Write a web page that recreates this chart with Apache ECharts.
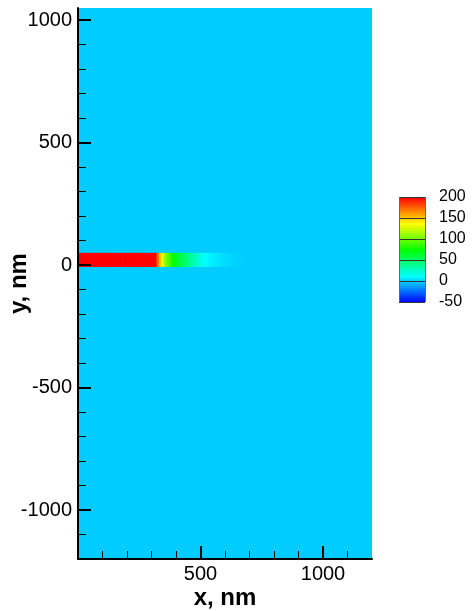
<!DOCTYPE html>
<html>
<head>
<meta charset="utf-8">
<script src="https://cdn.jsdelivr.net/npm/echarts@6/dist/echarts.min.js"></script>
<style>
html,body{margin:0;padding:0;background:#fff;}
#chart{width:475px;height:611px;}
</style>
</head>
<body>
<div id="chart"></div>
<script>
// ---- data ----
const xRange = [0, 1200];
const yRange = [-1200, 1050];
const backgroundValue = 0;
// strip along y in [-5, 50], binned in x (bin start, 10 nm wide)
const stripY = [-5, 50];
const stripBinWidth = 10;
const stripX = [0,10,20,30,40,50,60,70,80,90,100,110,120,130,140,150,160,170,180,190,200,210,220,230,240,250,260,270,280,290,
  300,310,320,330,340,350,360,370,380,390,400,410,420,430,440,450,460,470,480,490,500,510,520,530,540,550,560,570,580,590,
  600,610,620,630,640,650,660,670,680];
const stripValues = [240,240,240,240,240,240,240,240,240,240,240,240,240,240,240,240,240,240,240,240,240,240,240,240,240,240,240,240,240,235,
  225,200,175,150,130,112,100,90,80,72,66,60,55,50,45,40,35,30,26,22,18,14,12,10,9,8,7,6,5,4.2,
  3.5,3,2.5,2,1.5,1,0.7,0.4,0.2];
const xMajorTicks = [500, 1000];
const xMinorTicks = [100,200,300,400,600,700,800,900,1100];
const yMajorTicks = [-1000, -500, 0, 500, 1000];
const yMinorTicks = [-1100,-900,-800,-700,-600,-400,-300,-200,-100,100,200,300,400,600,700,800,900];
const colorMin = -50, colorMax = 200;
const colorbarStep = 5;
const colorbarLevels = [-50,-45,-40,-35,-30,-25,-20,-15,-10,-5,0,5,10,15,20,25,30,35,40,45,50,55,60,65,70,75,80,85,90,95,
  100,105,110,115,120,125,130,135,140,145,150,155,160,165,170,175,180,185,190,195];
const colorStops = ['#0000ff', '#00ffff', '#00ff00', '#ffff00', '#ff0000'];

// ---- build ----
const fieldData = [[xRange[0], xRange[1], yRange[0], yRange[1], backgroundValue]];
stripX.forEach((x, i) => fieldData.push([x, x + stripBinWidth, stripY[0], stripY[1], stripValues[i]]));
const colorbarData = colorbarLevels.map(v => [0, 1, v, v + colorbarStep, v + colorbarStep / 2]);

function renderRect(params, api) {
  const p0 = api.coord([api.value(0), api.value(2)]);
  const p1 = api.coord([api.value(1), api.value(3)]);
  return {
    type: 'rect',
    shape: {
      x: Math.min(p0[0], p1[0]),
      y: Math.min(p0[1], p1[1]),
      width: Math.abs(p1[0] - p0[0]) + 0.6,
      height: Math.abs(p1[1] - p0[1]) + 0.6
    },
    style: { fill: api.visual('color') }
  };
}

const FONT = '"Liberation Sans", Arial, sans-serif';
const plain = v => String(v);
const chart = echarts.init(document.getElementById('chart'), null, { renderer: 'canvas' });
chart.setOption({
  animation: false,
  backgroundColor: '#ffffff',
  grid: [
    { left: 78, top: 8, width: 294, height: 551, containLabel: false, outerBoundsMode: 'none' },
    { left: 399, top: 197, width: 26, height: 105, containLabel: false, outerBoundsMode: 'none' }
  ],
  visualMap: {
    type: 'continuous', show: false, min: colorMin, max: colorMax,
    dimension: 4, seriesIndex: [0, 1],
    inRange: { color: colorStops }
  },
  xAxis: [
    {
      gridIndex: 0, type: 'value', min: xRange[0], max: xRange[1], position: 'bottom', z: 10,
      name: 'x, nm', nameLocation: 'middle', nameGap: 27, nameMoveOverlap: false,
      nameTextStyle: { fontFamily: FONT, fontSize: 24, fontWeight: 'bold', color: '#000' },
      axisLine: { show: true, onZero: false, lineStyle: { color: '#000', width: 2 } },
      axisTick: { show: true, inside: true, length: 13, customValues: xMajorTicks, lineStyle: { color: '#000', width: 2 } },
      axisLabel: { customValues: xMajorTicks, formatter: plain, fontFamily: FONT, fontSize: 20, color: '#000', margin: 5 },
      splitLine: { show: false }
    },
    {
      gridIndex: 0, type: 'value', min: xRange[0], max: xRange[1], position: 'bottom', z: 10,
      axisLine: { show: false, onZero: false },
      axisTick: { show: true, inside: true, length: 8, customValues: xMinorTicks, lineStyle: { color: '#000', width: 1 } },
      axisLabel: { show: false },
      splitLine: { show: false }
    },
    {
      gridIndex: 1, type: 'value', min: 0, max: 1, interval: 1, z: 10,
      axisLine: { show: false, onZero: false }, axisTick: { show: false }, axisLabel: { show: false },
      splitLine: { show: true, lineStyle: { color: '#666', width: 1 } }
    }
  ],
  yAxis: [
    {
      gridIndex: 0, type: 'value', min: yRange[0], max: yRange[1], position: 'left', z: 10,
      name: 'y, nm', nameLocation: 'middle', nameGap: 47, nameMoveOverlap: false,
      nameTextStyle: { fontFamily: FONT, fontSize: 24, fontWeight: 'bold', color: '#000' },
      axisLine: { show: true, onZero: false, lineStyle: { color: '#000', width: 2 } },
      axisTick: { show: true, inside: true, length: 13, customValues: yMajorTicks, lineStyle: { color: '#000', width: 2 } },
      axisLabel: { customValues: yMajorTicks, formatter: plain, fontFamily: FONT, fontSize: 20, color: '#000', margin: 6 },
      splitLine: { show: false }
    },
    {
      gridIndex: 0, type: 'value', min: yRange[0], max: yRange[1], position: 'left', z: 10,
      axisLine: { show: false, onZero: false },
      axisTick: { show: true, inside: true, length: 8, customValues: yMinorTicks, lineStyle: { color: '#000', width: 1 } },
      axisLabel: { show: false },
      splitLine: { show: false }
    },
    {
      gridIndex: 1, type: 'value', min: colorMin, max: colorMax, interval: 50, position: 'right', z: 10,
      axisLine: { show: false, onZero: false }, axisTick: { show: false },
      axisLabel: { fontFamily: FONT, fontSize: 16, color: '#000', margin: 14, align: 'left' },
      splitLine: { show: true, lineStyle: { color: '#333', width: 1 } }
    }
  ],
  series: [
    {
      type: 'custom', xAxisIndex: 0, yAxisIndex: 0, clip: true,
      renderItem: renderRect, data: fieldData,
      encode: { x: [0, 1], y: [2, 3] }
    },
    {
      type: 'custom', xAxisIndex: 2, yAxisIndex: 2, clip: true,
      renderItem: renderRect, data: colorbarData,
      encode: { x: [0, 1], y: [2, 3] }
    }
  ]
});
</script>
</body>
</html>
